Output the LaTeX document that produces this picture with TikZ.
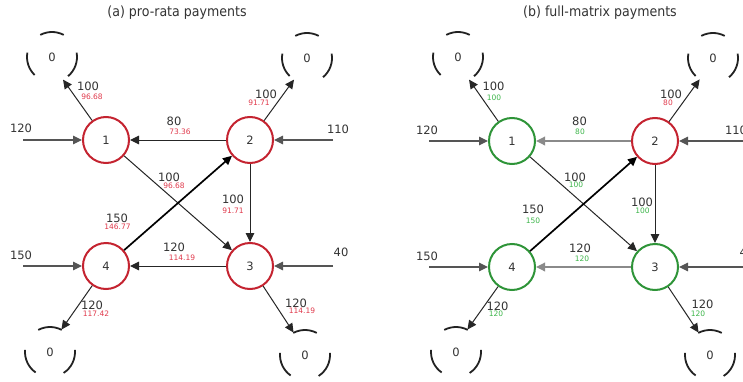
\documentclass[tikz,border=0pt]{standalone}
\usepackage{fontspec}
\setmainfont{DejaVu Sans}
\newfontfamily\titlefont[FakeStretch=0.9]{DejaVu Sans}
\usetikzlibrary{arrows.meta}
\definecolor{txt}{HTML}{333333}
\definecolor{nred}{HTML}{C42330}
\definecolor{ngreen}{HTML}{2E9438}
\definecolor{lred}{HTML}{E03A4C}
\definecolor{lgreen}{HTML}{3DB54A}
\definecolor{ecol}{HTML}{262626}
\definecolor{icol}{HTML}{555555}
\definecolor{gcol}{HTML}{8A8A8A}
\definecolor{arcc}{HTML}{222222}
\tikzset{
  nd/.style={circle, draw, line width=2pt, minimum size=46pt, inner sep=0pt, font=\fontsize{11.5}{12}\selectfont, text=txt},
  rednd/.style={nd, draw=nred},
  grnnd/.style={nd, draw=ngreen},
  sinknode/.style={circle, minimum size=50pt, inner sep=0pt, font=\fontsize{11.5}{12}\selectfont, text=txt},
  sinkarc/.style={line width=1.8pt, draw=arcc},
  edge/.style={draw=ecol, line width=1pt, -{Triangle[length=9pt,width=8.5pt]}},
  thickedge/.style={edge, draw=black, line width=1.7pt},
  inp/.style={edge, draw=icol, line width=1.1pt},
  grayedge/.style={edge, draw=gcol, line width=1.8pt},
  big/.style={font=\fontsize{11.5}{12}\selectfont, text=txt, inner sep=0pt},
  sred/.style={font=\fontsize{7.5}{8}\selectfont, text=lred, inner sep=0pt},
  sgrn/.style={font=\fontsize{7.5}{8}\selectfont, text=lgreen, inner sep=0pt},
  ttl/.style={font=\titlefont\fontsize{14}{15}\selectfont, text=txt, inner sep=0pt}
}
\newcommand\sinktop[3]{%
  \node[sinknode] (#1) at (#2,381-#3) {0};
  \draw[sinkarc] ([shift={(62:25)}]#1.center) arc[start angle=62, end angle=118, radius=25];
  \draw[sinkarc] ([shift={(170:25)}]#1.center) arc[start angle=170, end angle=226, radius=25];
  \draw[sinkarc] ([shift={(-50:25)}]#1.center) arc[start angle=-50, end angle=10, radius=25];
}
\newcommand\sinkbot[3]{%
  \node[sinknode] (#1) at (#2,381-#3) {0};
  \draw[sinkarc] ([shift={(62:25)}]#1.center) arc[start angle=62, end angle=118, radius=25];
  \draw[sinkarc] ([shift={(175:25)}]#1.center) arc[start angle=175, end angle=235, radius=25];
  \draw[sinkarc] ([shift={(-57:25)}]#1.center) arc[start angle=-57, end angle=5, radius=25];
}
\begin{document}
\begin{tikzpicture}[x=1pt, y=1pt]
\useasboundingbox (0,0) rectangle (743,381);
\clip (0,0) rectangle (743,381);

% ================= panel (a) =================
\node[ttl] (ta) at (177,381-13) {(a) pro-rata payments};

\node[rednd] (n1) at (106,381-140) {1};
\node[rednd] (n2) at (250,381-140) {2};
\node[rednd] (n3) at (250,381-266) {3};
\node[rednd] (n4) at (106,381-266) {4};

\sinktop{sa1}{52}{57}
\sinktop{sa2}{307}{58}
\sinkbot{sa4}{50}{352}
\sinkbot{sa3}{305}{355}

\coordinate (ia1) at (23,381-140);
\coordinate (ia2) at (333,381-140);
\coordinate (ia4) at (23,381-266);
\coordinate (ia3) at (333,381-266);
\draw[inp] (ia1) -- (n1);
\draw[inp] (ia2) -- (n2);
\draw[inp] (ia4) -- (n4);
\draw[inp] (ia3) -- (n3);
\node[big] (la-i1) at (21,381-128) {120};
\node[big] (la-i2) at (338,381-129) {110};
\node[big] (la-i4) at (21,381-255) {150};
\node[big] (la-i3) at (341,381-252) {40};

\draw[edge] (n1) -- (sa1.-64);
\draw[edge] (n2) -- (sa2.-121);
\draw[edge] (n4) -- (sa4.63);
\draw[edge] (n3) -- (sa3.117);
\draw[edge] (n2) -- (n1);
\draw[edge] (n1) -- (n3);
\draw[edge] (n2) -- (n3);
\draw[edge] (n3) -- (n4);
\draw[thickedge] (n4) -- (n2);

\node[big] (la1) at (88,381-86) {100};
\node[sred] (la1s) at (92,381-97) {96.68};
\node[big] (la2) at (266,381-94) {100};
\node[sred] (la2s) at (259,381-103) {91.71};
\node[big] (la21) at (174,381-121) {80};
\node[sred] (la21s) at (180,381-132) {73.36};
\node[big] (la13) at (169,381-177) {100};
\node[sred] (la13s) at (174,381-185.5) {96.68};
\node[big] (la23) at (233,381-199) {100};
\node[sred] (la23s) at (233,381-211) {91.71};
\node[big] (la42) at (117,381-218) {150};
\node[sred] (la42s) at (117.5,381-226.5) {146.77};
\node[big] (la34) at (174,381-247) {120};
\node[sred] (la34s) at (182,381-258) {114.19};
\node[big] (la4) at (92,381-305) {120};
\node[sred] (la4s) at (96,381-314) {117.42};
\node[big] (la3) at (296,381-303) {120};
\node[sred] (la3s) at (302,381-311) {114.19};

% ================= panel (b) =================
\node[ttl] (tb) at (600,381-13) {(b) full-matrix payments};

\node[grnnd] (m1) at (512,381-141) {1};
\node[rednd] (m2) at (655,381-141) {2};
\node[grnnd] (m3) at (655,381-267) {3};
\node[grnnd] (m4) at (512,381-267) {4};

\sinktop{sb1}{458}{57}
\sinktop{sb2}{713}{58}
\sinkbot{sb4}{456}{352}
\sinkbot{sb3}{710}{355}

\coordinate (ib1) at (429,381-141);
\coordinate (ib2) at (765,381-141);
\coordinate (ib4) at (429,381-267);
\coordinate (ib3) at (765,381-267);
\draw[inp] (ib1) -- (m1);
\draw[inp] (ib2) -- (m2);
\draw[inp] (ib4) -- (m4);
\draw[inp] (ib3) -- (m3);
\node[big] (lb-i1) at (427,381-130) {120};
\node[big] (lb-i2) at (736,381-130) {110};
\node[big] (lb-i4) at (427,381-256) {150};
\node[big] (lb-i3) at (747,381-252) {40};

\draw[edge] (m1) -- (sb1.-64);
\draw[edge] (m2) -- (sb2.-122);
\draw[edge] (m4) -- (sb4.63);
\draw[edge] (m3) -- (sb3.117);
\draw[grayedge] (m2) -- (m1);
\draw[edge] (m1) -- (m3);
\draw[edge] (m2) -- (m3);
\draw[grayedge] (m3) -- (m4);
\draw[thickedge] (m4) -- (m2);

\node[big] (lb1) at (493.5,381-86) {100};
\node[sgrn] (lb1s) at (494,381-98) {100};
\node[big] (lb2) at (671,381-94) {100};
\node[sred] (lb2s) at (668,381-103) {80};
\node[big] (lb21) at (579.5,381-121) {80};
\node[sgrn] (lb21s) at (580,381-132) {80};
\node[big] (lb13) at (575,381-177) {100};
\node[sgrn] (lb13s) at (576,381-185) {100};
\node[big] (lb23) at (642,381-202) {100};
\node[sgrn] (lb23s) at (642.5,381-210.5) {100};
\node[big] (lb42) at (533,381-209.5) {150};
\node[sgrn] (lb42s) at (533,381-220.5) {150};
\node[big] (lb34) at (580,381-248) {120};
\node[sgrn] (lb34s) at (582,381-258.5) {120};
\node[big] (lb4) at (497.5,381-306) {120};
\node[sgrn] (lb4s) at (496,381-313.5) {120};
\node[big] (lb3) at (702.5,381-304) {120};
\node[sgrn] (lb3s) at (698,381-313.5) {120};
\end{tikzpicture}
\end{document}
